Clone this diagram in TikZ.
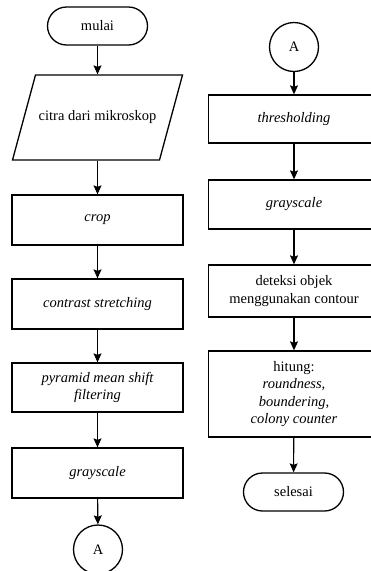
\documentclass[tikz,border=0pt]{standalone}
\usepackage{fontspec}
\setmainfont{Liberation Serif}
\usetikzlibrary{arrows.meta,calc}
\begin{document}
\begin{tikzpicture}[x=1pt,y=-1pt,
  every node/.style={font=\fontsize{14.5}{17.5}\selectfont, align=center, line width=1.3pt, inner sep=2pt},
  proc/.style={draw, rectangle, minimum width=171pt, minimum height=50pt},
  term/.style={draw, rectangle, rounded corners=19pt, minimum width=100pt, minimum height=38pt},
  conn/.style={draw, circle, minimum size=49pt, inner sep=0pt},
  flow/.style={line width=1.1pt, -{Stealth[length=9pt,width=8pt,inset=1.5pt]}}
]
\useasboundingbox (0,0) rectangle (371,571);
% left column
\node[term] (mulai) at (97.5,26) {mulai};
\node[minimum width=147pt, minimum height=85pt] (in) at (97.5,117.5) {citra dari mikroskop};
\draw[line width=1.3pt] ($(in.center)+(-62,-42.5)$) -- ($(in.center)+(85,-42.5)$) -- ($(in.center)+(62,42.5)$) -- ($(in.center)+(-85,42.5)$) -- cycle;
\node[proc] (crop) at (97.5,220) {\itshape crop};
\node[proc] (cs) at (97.5,304) {\itshape contrast stretching};
\node[proc, minimum height=49pt] (pm) at (97.5,387.5) {\itshape pyramid mean shift\\\itshape filtering};
\node[proc] (gs1) at (97.5,473) {\itshape grayscale};
\node[conn] (a1) at (98,549.5) {A};
% right column
\node[conn] (a2) at (294,47) {A};
\node[proc, minimum height=48pt] (th) at (294,119) {\itshape thresholding};
\node[proc, minimum height=49pt] (gs2) at (294,204.5) {\itshape grayscale};
\node[proc, minimum height=52pt] (det) at (294,291) {deteksi objek\\menggunakan contour};
\node[proc, minimum height=86pt] (hit) at (294,394) {hitung:\\\itshape roundness,\\\itshape boundering,\\\itshape colony counter};
\node[term] (sel) at (293.5,492) {selesai};
% connectors
\draw[flow] (mulai) -- (in.north);
\draw[flow] (in.south) -- (crop);
\draw[flow] (crop) -- (cs);
\draw[flow] (cs) -- (pm);
\draw[flow] (pm) -- (gs1);
\draw[flow] (gs1) -- (a1);
\draw[flow] (a2) -- (th);
\draw[flow] (th) -- (gs2);
\draw[flow] (gs2) -- (det);
\draw[flow] (det) -- (hit);
\draw[flow] (hit) -- (sel);
\end{tikzpicture}
\end{document}
